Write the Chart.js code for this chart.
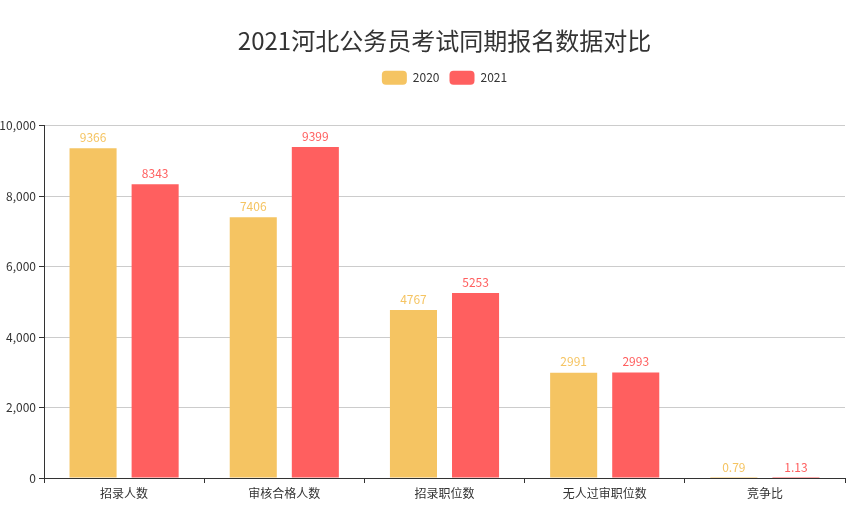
<!DOCTYPE html>
<html><head><meta charset="utf-8">
<script src="https://cdn.jsdelivr.net/npm/chart.js@4/dist/chart.umd.min.js"></script>
<style>html,body{margin:0;padding:0;background:#fff}#c{display:block}</style>
</head><body>
<div style="width:861px;height:510px"><canvas id="c" width="861" height="510"></canvas></div>
<script>
const categories = ['招录人数','审核合格人数','招录职位数','无人过审职位数','竞争比'];
const values2020 = [9366, 7406, 4767, 2991, 0.79];
const values2021 = [8343, 9399, 5253, 2993, 1.13];
const yTicks = [0, 2000, 4000, 6000, 8000, 10000];
const titleText = '2021河北公务员考试同期报名数据对比';
const seriesNames = ['2020','2021'];
const colors = ['#F5C462','#FF5F5F'];

const FONT = '"Noto Sans CJK SC", "Noto Sans", sans-serif';

const legendSpacer = {
  id: 'legendSpacer',
  beforeInit(chart) {
    const orig = chart.legend.fit;
    chart.legend.fit = function () { orig.bind(chart.legend)(); this.height += 31; };
  }
};

const valueLabels = {
  id: 'valueLabels',
  afterDatasetsDraw(chart) {
    const ctx = chart.ctx;
    ctx.save();
    ctx.font = '12px ' + FONT;
    ctx.textAlign = 'center';
    ctx.textBaseline = 'bottom';
    chart.data.datasets.forEach((ds, i) => {
      const meta = chart.getDatasetMeta(i);
      ctx.fillStyle = ds.backgroundColor;
      meta.data.forEach((bar, j) => {
        ctx.fillText(String(ds.data[j]), bar.x, bar.y - 5);
      });
    });
    ctx.restore();
  }
};

new Chart(document.getElementById('c'), {
  type: 'bar',
  data: {
    labels: categories,
    datasets: [
      { label: seriesNames[0], data: values2020, backgroundColor: colors[0], categoryPercentage: 0.775, barPercentage: 0.758 },
      { label: seriesNames[1], data: values2021, backgroundColor: colors[1], categoryPercentage: 0.775, barPercentage: 0.758 }
    ]
  },
  options: {
    responsive: false,
    animation: false,
    layout: { padding: { left: 0, right: 16, top: 0, bottom: 0 } },
    plugins: {
      title: { display: true, fullSize: false, text: titleText, color: '#333', font: { family: FONT, size: 24, weight: 'normal' }, padding: { top: 26, bottom: 6 } },
      legend: {
        display: true, fullSize: false,
        labels: { boxWidth: 25, boxHeight: 14, color: '#333', font: { family: FONT, size: 12 }, useBorderRadius: true, borderRadius: 4, padding: 10 }
      },
      tooltip: { enabled: false }
    },
    scales: {
      x: {
        offset: true,
        grid: { display: true, drawOnChartArea: false, offset: true, color: '#333', tickLength: 5, tickColor: '#333' },
        border: { display: true, color: '#333', width: 1 },
        ticks: { color: '#333', font: { family: FONT, size: 12 }, padding: 3 },
        afterFit(s) { s.height = 32; }
      },
      y: {
        min: 0, max: 10000,
        afterBuildTicks(s) { s.ticks = yTicks.map(v => ({ value: v })); },
        grid: { color: '#ccc', tickLength: 5, tickColor: '#333' },
        border: { display: true, color: '#333', width: 1 },
        ticks: { color: '#333', font: { family: FONT, size: 12 }, padding: 3,
          callback: v => v.toLocaleString('en-US') },
        afterFit(s) { s.width = 44; }
      }
    }
  },
  plugins: [legendSpacer, valueLabels]
});
</script>
</body></html>
